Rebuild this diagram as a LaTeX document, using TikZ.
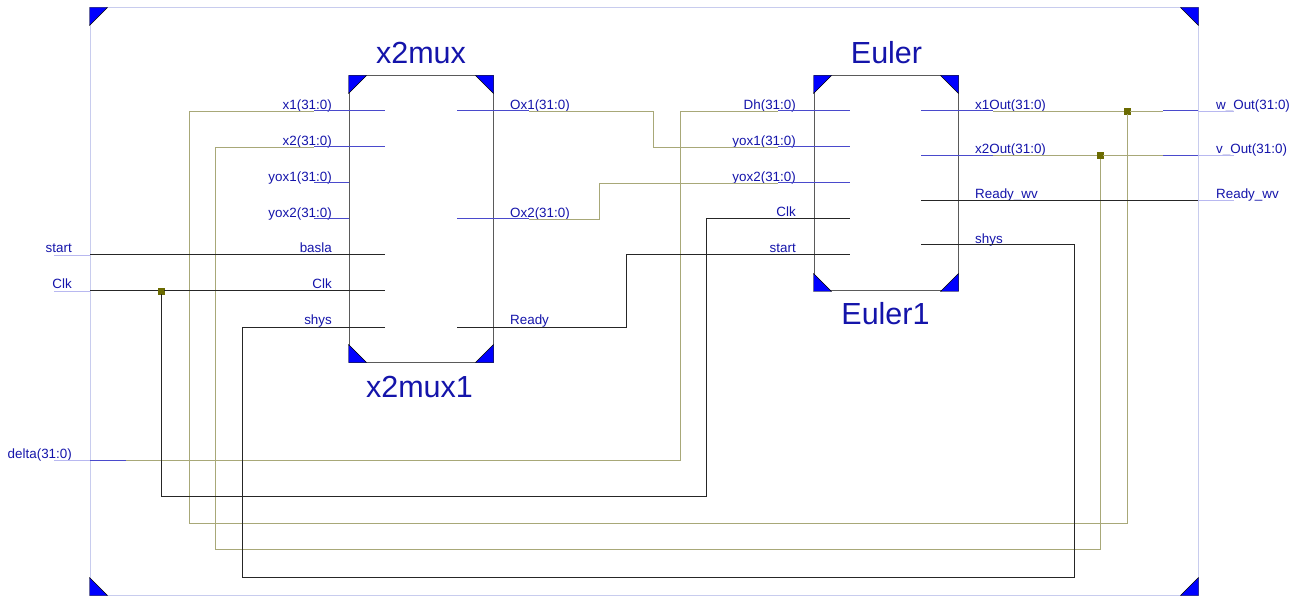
\documentclass[tikz,border=0pt]{standalone}
\usepackage{fontspec}
\setmainfont{Liberation Sans}
\definecolor{rtlblue}{HTML}{0000FF}
\definecolor{rtltext}{HTML}{1414AA}
\definecolor{rtlstub}{HTML}{4A4ACC}
\definecolor{rtlpale}{HTML}{B8B8F0}
\definecolor{rtlframe}{HTML}{C8CCEE}
\definecolor{rtlbus}{HTML}{A8A878}
\definecolor{rtlbox}{HTML}{5A5A5A}
\definecolor{rtljunct}{HTML}{6B6B00}
\tikzset{
  framebox/.style={draw=rtlframe, line width=1pt, minimum width=1108pt, minimum height=587pt, inner sep=0pt},
  blockbox/.style={draw=rtlbox, line width=1pt, minimum width=144pt, inner sep=0pt},
  corner/.style={fill=rtlblue, draw=black, line width=0.4pt},
  wirebus/.style={draw=rtlbus, line width=0.9pt},
  wiresig/.style={draw=black!85, line width=1pt},
  stubbus/.style={draw=rtlstub, line width=1pt},
  stubpale/.style={draw=rtlpale, line width=0.8pt},
  junct/.style={draw=rtljunct, fill=rtljunct, minimum size=6pt, inner sep=0pt},
  pinleft/.style={anchor=base east, inner sep=0pt, text=rtltext, font=\fontsize{13.4}{16}\selectfont},
  pinright/.style={anchor=base west, inner sep=0pt, text=rtltext, font=\fontsize{13.4}{16}\selectfont},
  titlelabel/.style={anchor=base, inner sep=0pt, text=rtltext, font=\fontsize{30.5}{34}\selectfont},
}
\begin{document}
\begin{tikzpicture}[x=1pt, y=-1pt]
  \useasboundingbox (0,0) rectangle (1302,596);
  \node[framebox] (frame) at (644,301.5) {};
  \node[blockbox, minimum height=286pt] (x2mux) at (421,219) {};
  \node[blockbox, minimum height=215pt] (euler) at (886,183.5) {};

  \fill[corner] (frame.north west) -- ++(18,0) -- ++(-18,18) -- cycle;
  \fill[corner] (frame.north east) -- ++(-18,0) -- ++(18,18) -- cycle;
  \fill[corner] (frame.south west) -- ++(18,0) -- ++(-18,-18) -- cycle;
  \fill[corner] (frame.south east) -- ++(-18,0) -- ++(18,-18) -- cycle;
  \fill[corner] (x2mux.north west) -- ++(18,0) -- ++(-18,18) -- cycle;
  \fill[corner] (x2mux.north east) -- ++(-18,0) -- ++(18,18) -- cycle;
  \fill[corner] (x2mux.south west) -- ++(18,0) -- ++(-18,-18) -- cycle;
  \fill[corner] (x2mux.south east) -- ++(-18,0) -- ++(18,-18) -- cycle;
  \fill[corner] (euler.north west) -- ++(18,0) -- ++(-18,18) -- cycle;
  \fill[corner] (euler.north east) -- ++(-18,0) -- ++(18,18) -- cycle;
  \fill[corner] (euler.south west) -- ++(18,0) -- ++(-18,-18) -- cycle;
  \fill[corner] (euler.south east) -- ++(-18,0) -- ++(18,-18) -- cycle;

  \node[titlelabel] (titlex2mux) at (421,63.5) {x2mux};
  \node[titlelabel] (namex2mux) at (419.5,397) {x2mux1};
  \node[titlelabel] (titleeuler) at (886.5,63.5) {Euler};
  \node[titlelabel] (nameeuler) at (885.5,324) {Euler1};

  \node[pinleft] (lblstart) at (72,252.5) {start};
  \node[pinleft] (lblclk) at (72,288.5) {Clk};
  \node[pinleft] (lbldelta) at (72,458) {delta(31:0)};
  \node[pinleft] (lblxa) at (332,109.5) {x1(31:0)};
  \node[pinleft] (lblxb) at (332,145.5) {x2(31:0)};
  \node[pinleft] (lblyoxa) at (332,181.5) {yox1(31:0)};
  \node[pinleft] (lblyoxb) at (332,217.5) {yox2(31:0)};
  \node[pinleft] (lblbasla) at (332,252.5) {basla};
  \node[pinleft] (lblmclk) at (332,288.5) {Clk};
  \node[pinleft] (lblmshys) at (332,324.5) {shys};
  \node[pinright] (lbloxa) at (510,109.5) {Ox1(31:0)};
  \node[pinright] (lbloxb) at (510,217.5) {Ox2(31:0)};
  \node[pinright] (lblready) at (510,324.5) {Ready};
  \node[pinleft] (lbldh) at (796,109.5) {Dh(31:0)};
  \node[pinleft] (lbleyoxa) at (796,145.5) {yox1(31:0)};
  \node[pinleft] (lbleyoxb) at (796,181.5) {yox2(31:0)};
  \node[pinleft] (lbleclk) at (796,216.5) {Clk};
  \node[pinleft] (lblestart) at (796,252.5) {start};
  \node[pinright] (lblxaout) at (975,109.5) {x1Out(31:0)};
  \node[pinright] (lblxbout) at (975,153.5) {x2Out(31:0)};
  \node[pinright] (lblreadywv) at (975,198.5) {Ready\_wv};
  \node[pinright] (lbleshys) at (975,243.5) {shys};
  \node[pinright] (lblwout) at (1216,109.5) {w\_Out(31:0)};
  \node[pinright] (lblvout) at (1216,153.5) {v\_Out(31:0)};
  \node[pinright] (lblwv) at (1216,198.5) {Ready\_wv};

  \node[junct] (jclk) at (161,291) {};
  \node[junct] (jw) at (1127,111) {};
  \node[junct] (jv) at (1100,155.5) {};

  \coordinate (xafar) at (314,111);
  \coordinate (xain) at (385,111);
  \coordinate (xbfar) at (314,147);
  \coordinate (xbin) at (385,147);
  \coordinate (yoxafar) at (314,183);
  \coordinate (yoxbfar) at (314,219);
  \coordinate (oxaout) at (457,111);
  \coordinate (oxafar) at (529,111);
  \coordinate (oxbout) at (457,219);
  \coordinate (oxbfar) at (529,219);
  \coordinate (readyout) at (457,327);
  \coordinate (mclkin) at (385,291);
  \coordinate (mstartin) at (385,255);
  \coordinate (mshysin) at (385,327);
  \coordinate (dhfar) at (778,111);
  \coordinate (dhin) at (850,111);
  \coordinate (eyoxafar) at (778,147);
  \coordinate (eyoxain) at (850,147);
  \coordinate (eyoxbfar) at (778,183);
  \coordinate (eyoxbin) at (850,183);
  \coordinate (eclkin) at (850,219);
  \coordinate (estartin) at (850,255);
  \coordinate (xaoutout) at (921,111);
  \coordinate (xaoutfar) at (993,111);
  \coordinate (xboutout) at (921,155.5);
  \coordinate (xboutfar) at (993,155.5);
  \coordinate (readywvout) at (921,200.5);
  \coordinate (eshysout) at (921,245);
  \coordinate (pstart) at (54,255);
  \coordinate (pstartedge) at (90,255);
  \coordinate (pclk) at (54,291);
  \coordinate (pclkedge) at (90,291);
  \coordinate (pdelta) at (54,460);
  \coordinate (pdeltaedge) at (90,460);
  \coordinate (pdeltafar) at (126,460);
  \coordinate (pwfar) at (1163,111);
  \coordinate (pwedge) at (1198,111);
  \coordinate (pw) at (1234,111);
  \coordinate (pvfar) at (1163,155.5);
  \coordinate (pvedge) at (1198,155.5);
  \coordinate (pv) at (1234,155.5);
  \coordinate (pwvedge) at (1198,200.5);
  \coordinate (pwv) at (1234,200.5);
  \coordinate (xalow) at (189,523);
  \coordinate (xblow) at (215,549);
  \coordinate (dhlow) at (680,460);
  \coordinate (oxamid) at (653,111);
  \coordinate (oxbmid) at (599,219);
  \coordinate (readymid) at (626,327);
  \coordinate (clklow) at (706,496);
  \coordinate (shyslow) at (242,577);
  \coordinate (shysup) at (1074,245);

  \draw[wirebus] (xafar) -| (xalow) -| (jw);
  \draw[wirebus] (xbfar) -| (xblow) -| (jv);
  \draw[wirebus] (dhfar) -| (dhlow) -- (pdeltafar);
  \draw[wirebus] (oxafar) -- (oxamid) |- (eyoxafar);
  \draw[wirebus] (oxbfar) -- (oxbmid) |- (eyoxbfar);
  \draw[wirebus] (xaoutfar) -- (jw) -- (pwfar);
  \draw[wirebus] (xboutfar) -- (jv) -- (pvfar);
  \draw[wiresig] (pstartedge) -- (mstartin);
  \draw[wiresig] (pclkedge) -- (jclk) -- (mclkin);
  \draw[wiresig] (jclk) |- (clklow) |- (eclkin);
  \draw[wiresig] (mshysin) -| (shyslow) -| (shysup) -- (eshysout);
  \draw[wiresig] (readyout) -- (readymid) |- (estartin);
  \draw[wiresig] (readywvout) -- (pwvedge);

  \draw[stubbus] (xafar) -- (xain);
  \draw[stubbus] (xbfar) -- (xbin);
  \draw[stubbus] (yoxafar) -- (yoxafar -| x2mux.west);
  \draw[stubbus] (yoxbfar) -- (yoxbfar -| x2mux.west);
  \draw[stubbus] (oxaout) -- (oxafar);
  \draw[stubbus] (oxbout) -- (oxbfar);
  \draw[stubbus] (dhfar) -- (dhin);
  \draw[stubbus] (eyoxafar) -- (eyoxain);
  \draw[stubbus] (eyoxbfar) -- (eyoxbin);
  \draw[stubbus] (xaoutout) -- (xaoutfar);
  \draw[stubbus] (xboutout) -- (xboutfar);
  \draw[stubbus] (pdeltaedge) -- (pdeltafar);
  \draw[stubbus] (pwfar) -- (pwedge);
  \draw[stubbus] (pvfar) -- (pvedge);

  \draw[stubpale] (pstart) -- (pstartedge);
  \draw[stubpale] (pclk) -- (pclkedge);
  \draw[stubpale] (pdelta) -- (pdeltaedge);
  \draw[stubpale] (pwedge) -- (pw);
  \draw[stubpale] (pvedge) -- (pv);
  \draw[stubpale] (pwvedge) -- (pwv);
\end{tikzpicture}
\end{document}
